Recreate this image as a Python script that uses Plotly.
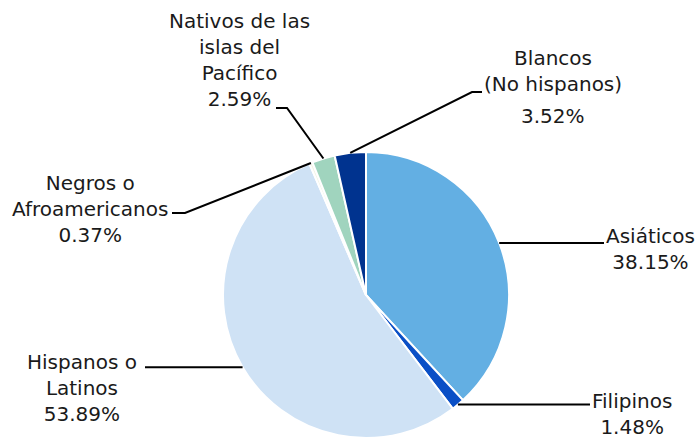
import math
import plotly.graph_objects as go

categories = ["Asiáticos", "Filipinos", "Hispanos o Latinos", "Negros o Afroamericanos",
              "Nativos de las islas del Pacífico", "Blancos (No hispanos)"]
values = [38.15, 1.48, 53.89, 0.37, 2.59, 3.52]
label_text = ["Asiáticos<br>38.15%", "Filipinos<br>1.48%", "Hispanos o<br>Latinos<br>53.89%",
              "Negros o<br>Afroamericanos<br>0.37%", "Nativos de las<br>islas del<br>Pacífico<br>2.59%",
              "Blancos<br>(No hispanos)"]
colors = ["#63AFE3", "#0A4FC6", "#CFE2F5", "#F4F4E6", "#A0D4BE", "#00338F"]

W, H = 698, 438
CX, CY, R = 366, 295, 143

# label layout (pixel positions)
label_pos = [(650, 249), (632, 414), (82, 388), (90, 209), (240, 60), (553, 71)]
# leader line waypoints after the slice edge point
leader_pts = [
    [(604, None)],
    [(590, None)],
    [(145, None)],
    [(185, 213), (172, 213)],
    [(287, 108), (276, 108)],
    [(472, 92), (482, 92)],
]

def px(x):
    return x / W

def py(y):
    return 1 - y / H

fig = go.Figure(go.Pie(
    labels=categories, values=values, sort=False, direction="clockwise", rotation=0,
    marker=dict(colors=colors, line=dict(color="white", width=2)),
    textinfo="none", hoverinfo="label+percent", showlegend=False,
    domain=dict(x=[(CX - R) / W, (CX + R) / W], y=[py(CY + R), py(CY - R)]),
))

total = sum(values)
cum = 0
shapes = []
for v, pts in zip(values, leader_pts):
    mid = (cum + v / 2) / total * 2 * math.pi
    cum += v
    ex = CX + R * math.sin(mid)
    ey = CY - R * math.cos(mid)
    path = [(ex, ey)]
    for (x, y) in pts:
        path.append((x, ey if y is None else y))
    d = "M " + " L ".join(f"{px(x):.5f},{py(y):.5f}" for x, y in path)
    shapes.append(dict(type="path", path=d, xref="paper", yref="paper",
                       line=dict(color="black", width=2)))

annotations = []
for t, (x, y) in zip(label_text, label_pos):
    annotations.append(dict(text=t, x=px(x), y=py(y), xref="paper", yref="paper",
                            xanchor="center", yanchor="middle", showarrow=False,
                            align="center", font=dict(size=20, color="#1a1a1a")))
annotations.append(dict(text="3.52%", x=px(553), y=py(116), xref="paper", yref="paper",
                        xanchor="center", yanchor="middle", showarrow=False,
                        font=dict(size=20, color="#1a1a1a")))

fig.update_layout(
    width=W, height=H, autosize=False,
    margin=dict(l=0, r=0, t=0, b=0),
    paper_bgcolor="white", plot_bgcolor="white",
    font=dict(family="DejaVu Sans"),
    shapes=shapes, annotations=annotations,
)

fig.write_html("out.html", config={"displayModeBar": False},
               post_script="document.body.style.margin='0';document.body.style.padding='0';document.body.style.overflow='hidden';")
